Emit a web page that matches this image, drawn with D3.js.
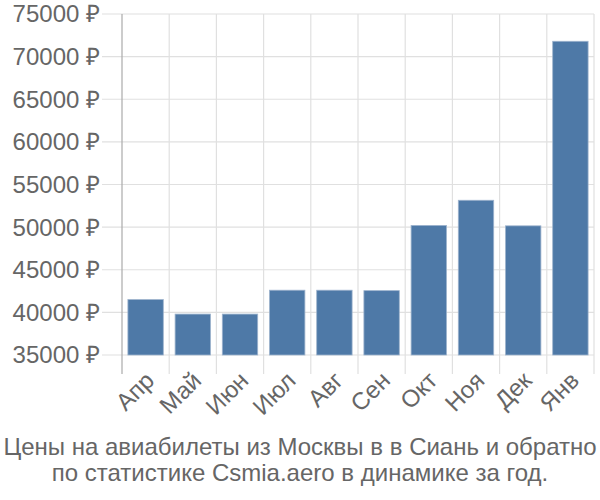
<!DOCTYPE html>
<html><head><meta charset="utf-8">
<script src="https://cdn.jsdelivr.net/npm/d3@7"></script>
<style>body{margin:0;background:#fff;} text{font-family:"Liberation Sans",Arial,sans-serif;}</style>
</head><body>
<svg id="c" width="600" height="500"></svg>
<script>
const months = ["Апр","Май","Июн","Июл","Авг","Сен","Окт","Ноя","Дек","Янв"];
const prices = [41500, 39800, 39800, 42600, 42600, 42550, 50200, 53150, 50150, 71800];
const yTicks = [35000, 40000, 45000, 50000, 55000, 60000, 65000, 70000, 75000];
const titleLines = ["Цены на авиабилеты из Москвы в в Сиань и обратно", "по статистике Csmia.aero в динамике за год."];

(function () {
const svg = d3.select("#c");
const mLeft = 122, mRight = 594, mTop = 14, mBottom = 355, tickBottom = 374;
const x = d3.scaleBand().domain(months).range([mLeft, mRight]).paddingInner(0.25).paddingOuter(0.125);
const y = d3.scaleLinear().domain([35000, 75000]).range([mBottom, mTop]);
const step = x.step();

svg.append("g").selectAll("line").data(yTicks).join("line")
  .attr("x1", 102).attr("x2", mRight).attr("y1", d => y(d)).attr("y2", d => y(d))
  .attr("stroke", "#e0e0e0").attr("stroke-width", 1.2);
const bounds = d3.range(months.length + 1).map(i => mLeft + i * step);
svg.append("g").selectAll("line").data(bounds.slice(1)).join("line")
  .attr("x1", d => d).attr("x2", d => d).attr("y1", mTop).attr("y2", tickBottom)
  .attr("stroke", "#e0e0e0").attr("stroke-width", 1.2);
svg.append("line").attr("x1", mLeft).attr("x2", mLeft).attr("y1", mTop).attr("y2", tickBottom)
  .attr("stroke", "#aaa").attr("stroke-width", 1.2);

svg.append("g").selectAll("rect").data(prices).join("rect")
  .attr("x", (d, i) => x(months[i])).attr("width", x.bandwidth())
  .attr("y", d => y(d)).attr("height", d => mBottom - y(d))
  .attr("fill", "#4e79a7").attr("stroke", "#9db3cd").attr("stroke-width", 0.8);

svg.append("g").selectAll("text").data(yTicks).join("text")
  .attr("x", 100).attr("y", d => y(d)).attr("dy", "0.35em")
  .attr("text-anchor", "end").attr("font-size", 24).attr("fill", "#666")
  .text(d => d + " ₽");

svg.append("g").selectAll("text").data(months).join("text")
  .attr("transform", d => `translate(${x(d) + x.bandwidth() / 2 + 10},${tickBottom + 8}) rotate(-45)`)
  .attr("text-anchor", "end").attr("font-size", 24).attr("fill", "#666")
  .text(d => d);

svg.append("g").selectAll("text").data(titleLines).join("text")
  .attr("x", 300).attr("y", (d, i) => 455 + i * 26)
  .attr("text-anchor", "middle").attr("font-size", 24).attr("fill", "#666")
  .text(d => d);
})();
</script>
</body></html>
